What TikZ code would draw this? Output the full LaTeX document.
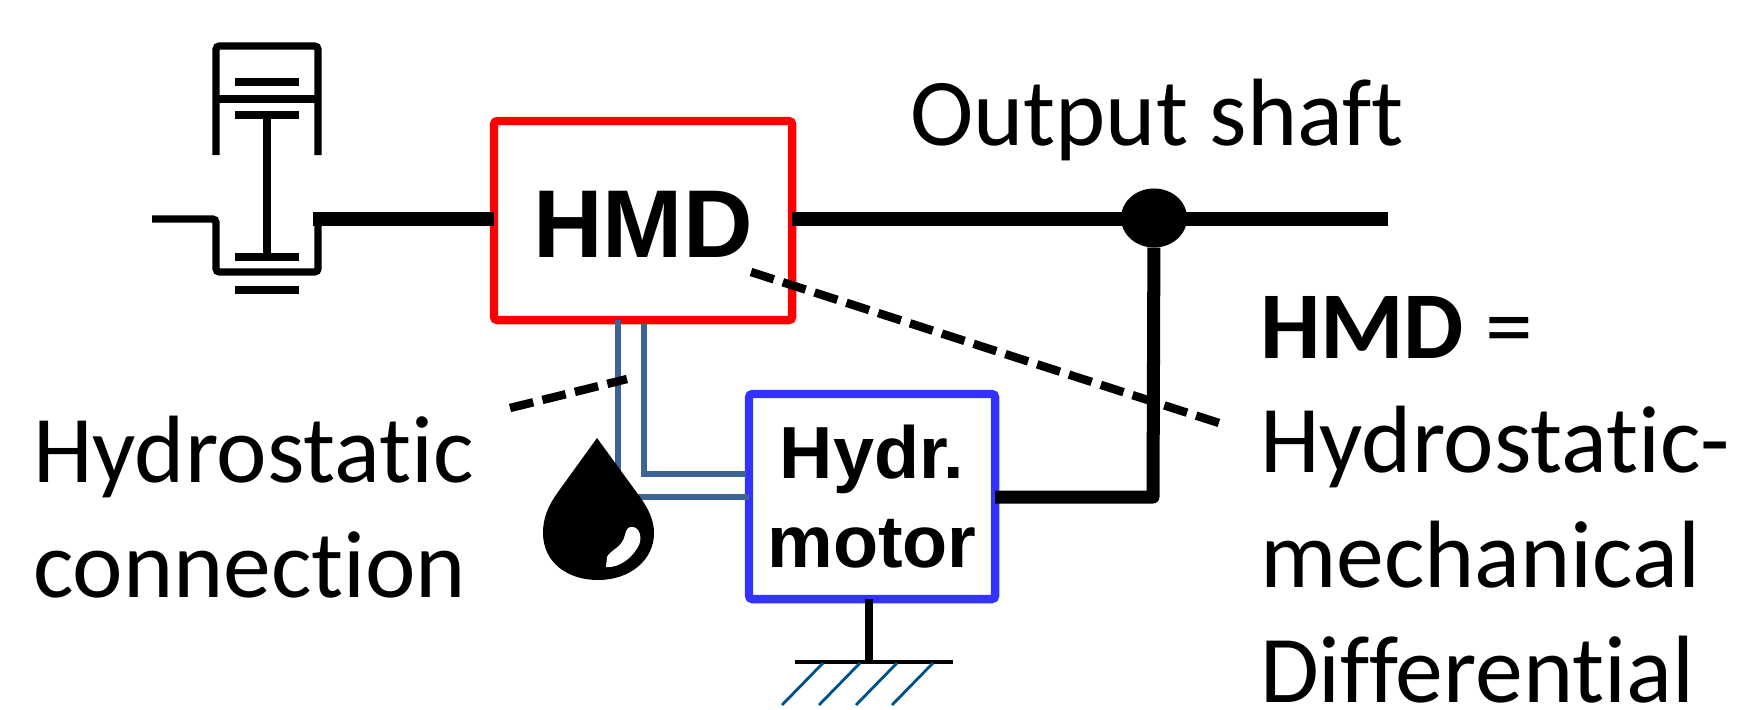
\documentclass[tikz,border=0pt]{standalone}
\usepackage{xcolor}
\usepackage{fontspec}
\setmainfont[Ligatures=CommonOff]{Carlito}
\newfontfamily\boxfont{Liberation Sans}
\usetikzlibrary{positioning, shapes.geometric}
\definecolor{pipeblue}{RGB}{60,100,150}
\definecolor{hatchblue}{RGB}{0,80,140}
\definecolor{motorblue}{RGB}{51,51,255}

\begin{document}
\begin{tikzpicture}[
    x=0.01cm, y=-0.01cm,
    every node/.style={inner sep=0pt, outer sep=0pt, align=left, anchor=base west, font=\fontsize{27.2}{32.6}\selectfont},
    unit/.style={draw, rounded corners=1pt, line width=2.4pt, anchor=north west, align=center, fill=white},
    engine/.style={line width=2.1pt, rounded corners=1pt},
    plate/.style={line width=2.1pt},
    shaft/.style={line width=3.7pt},
    pipe/.style={pipeblue, line width=1.7pt},
    leader/.style={line width=2.4pt, dash pattern=on 6.8pt off 2.7pt},
    hatch/.style={hatchblue, line width=0.8pt}
]
\useasboundingbox (0,0) rectangle (1737,709);

\node[unit, draw=red, minimum width=2.98cm, minimum height=1.99cm, text height=21pt, text depth=0pt, font=\fontsize{27.4}{32}\selectfont\boxfont\bfseries] (hmd) at (494,121) {HMD};
\node[unit, draw=motorblue, minimum width=2.46cm, minimum height=2.05cm, font=\fontsize{21}{25.4}\selectfont\boxfont\bfseries] (motor) at (749,394) {Hydr.\\motor};

\coordinate (crankend) at (152,219);
\coordinate (crankout) at (313,219);
\coordinate (shaftend) at (1388,219);
\coordinate (joint) at (1153,497);
\coordinate (groundtop) at (869,662);
\coordinate (hatchone) at (823,663);
\coordinate (hatchtwo) at (860,663);
\coordinate (hatchthree) at (897,663);
\coordinate (hatchfour) at (933,663);

\draw[pipe] (618,320) |- (motor.west |- 0,497);
\draw[pipe] (644,324) |- (746,474);

\draw[engine] (216,155) |- (318,46) -- (318,155);
\draw[engine] (216,99) -- (318,99);
\draw[engine] (crankend) -- (216,219) |- (318,272) |- (crankout);
\draw[plate] (235,82) -- (299,82);
\draw[plate] (235,115) -- (299,115);
\draw[plate] (267,115) -- (267,257);
\draw[plate] (235,257) -- (299,257);
\draw[plate] (235,290) -- (299,290);

\draw[shaft] (crankout) -- (hmd.west |- crankout);
\draw[shaft] (hmd.east |- shaftend) -- (shaftend);
\node[ellipse, fill=black, minimum width=0.66cm, minimum height=0.59cm, anchor=center] (coupling) at (1154,218) {};
\draw[shaft, line join=round] (motor.east |- joint) -- (joint) -- (coupling);

\draw[line width=2pt] (motor.south -| groundtop) -- (groundtop);
\draw[line width=1.1pt] (795,662) -- (953,662);
\foreach \hatchend in {hatchone, hatchtwo, hatchthree, hatchfour}
    \draw[hatch] (\hatchend) -- ++(-41,42);

\fill (597,438) -- (558,492) .. controls (548,506) and (543,518) .. (543,533)
    .. controls (543,562) and (567,580) .. (598,580)
    .. controls (630,580) and (654,560) .. (654,533)
    .. controls (654,520) and (648,508) .. (640,497) -- cycle;
\fill[white] (633,527) .. controls (628,526) and (626,530) .. (625,535)
    .. controls (622,548) and (610,550) .. (607,557) -- (606,567)
    .. controls (622,568) and (634,555) .. (639,545)
    .. controls (642,538) and (640,528) .. (633,527) -- cycle;

\node (outlabel) at (910,145) {Output shaft};
\node (connlabel) at (33,597) {Hydrostatic\\connection};
\node (hmdlabel) at (1260,702) {\textbf{HMD} =\\Hydrostatic-\\mechanical\\Differential};

\coordinate (connstart) at (510,408);
\coordinate (connend) at (627,379);
\coordinate (hmdstart) at (751,272);
\coordinate (hmdend) at (1219,423);
\draw[leader] (connstart) -- (connend);
\draw[leader] (hmdstart) -- (hmdend);
\end{tikzpicture}
\end{document}
